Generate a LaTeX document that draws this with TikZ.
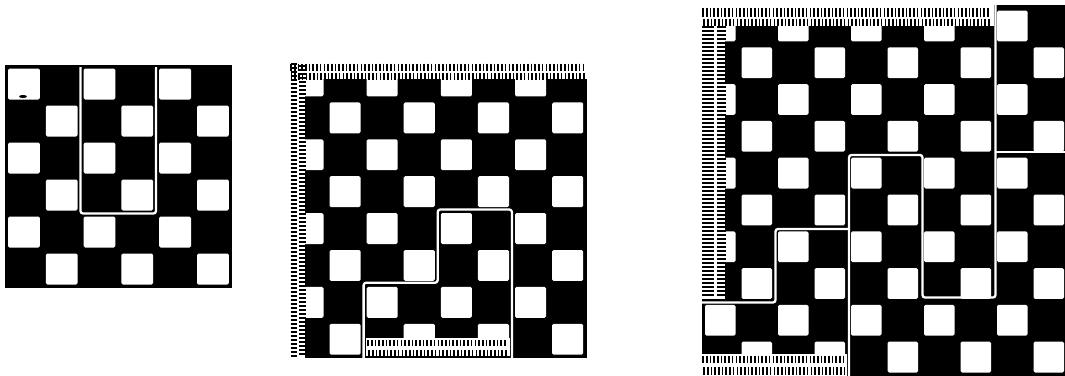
\documentclass[tikz,border=0pt]{standalone}
\tikzset{
 board/.style={fill=black},
 sq/.style={fill=white, rounded corners=1.5pt},
 fringebg/.style={fill=white},
 vtick/.style={draw=black, line width=1.6pt},
 htick/.style={draw=black, line width=1.7pt},
 seam/.style={draw=white, line width=2.3pt, rounded corners=2.5pt, line join=round},
}
% white squares of a checkerboard: x0 y0 cw ch lastcol lastrow
\newcommand\checkerA[6]{%
 \foreach \r in {0,...,#6}{\foreach \c in {0,...,#5}{%
   \pgfmathtruncatemacro\pty{mod(\r+\c,2)}%
   \ifnum\pty=0
     \fill[sq] ({#1+#3*\c+3},{#2+#4*\r+3}) rectangle ({#1+#3*(\c+1)-3},{#2+#4*(\r+1)-3});
   \fi}}}
% row of vertical ticks: xstart xend spacing ytop ybottom
\newcommand\tickrow[5]{%
 \pgfmathtruncatemacro\ntk{(#2-#1)/#3}%
 \foreach \i in {0,...,\ntk}{\draw[vtick] ({#1+#3*\i},#4) -- ({#1+#3*\i},#5);}}
% column of horizontal dashes: xleft xright ystart yend spacing
\newcommand\tickcol[5]{%
 \pgfmathtruncatemacro\ntk{(#4-#3)/#5}%
 \foreach \i in {0,...,\ntk}{\draw[htick] (#1,{#3+#5*\i}) -- (#2,{#3+#5*\i});}}
\begin{document}
\begin{tikzpicture}[x=1pt,y=-1pt]
\useasboundingbox (0,0) rectangle (1065,375);
\fill[white] (0,0) rectangle (1065,375);
\begin{scope}
\clip (0,0) rectangle (1065,375);
% ---------------- panel 1 ----------------
\fill[board] (5,65) rectangle (232,288);
\checkerA{5}{65.5}{37.8}{37}{5}{5}
\fill[black] (23,96.5) ellipse (4pt and 1.5pt);
\draw[seam] (80.5,67) -- (80.5,213.5) -- (156,213.5) -- (156,67);
% ---------------- panel 2 ----------------
\fill[board] (289.4,62.5) rectangle (587,358);
\checkerA{289.4}{62.5}{37.1}{36.9}{7}{7}
\fill[fringebg] (286,58) rectangle (588,79);
\fill[fringebg] (286,58) rectangle (305,359);
\fill[fringebg] (366,338) rectangle (510,355.5);
\tickrow{291}{586}{3.7}{63.5}{70.5}
\tickrow{291.5}{586}{3.7}{73}{79.5}
\tickcol{290.5}{297}{64}{357}{4}
\tickcol{299}{305.5}{66}{357}{4}
\tickrow{368}{507}{3.7}{340}{346}
\tickrow{369}{507}{3.7}{349.5}{355.5}
\draw[seam] (363.6,358) -- (363.6,282.7) -- (437.7,282.7) -- (437.7,209.5) -- (511.9,209.5) -- (511.9,358);
% ---------------- panel 3 ----------------
\fill[board] (702,7.5) rectangle (1066,376);
\fill[board] (994,4.5) rectangle (1066,8);
\checkerA{702}{7.5}{36.5}{36.8}{9}{9}
\fill[fringebg] (699,2) rectangle (993.5,25.5);
\fill[fringebg] (699,2) rectangle (725,299);
\fill[fringebg] (701.5,354) rectangle (847,376);
\tickrow{703}{991}{3.7}{8}{16.5}
\tickrow{704}{991}{3.7}{18.5}{25.5}
\tickcol{702}{714}{27}{298}{4}
\tickcol{717}{725.5}{27}{298}{4}
\tickrow{703}{846}{3.7}{355.5}{363}
\tickrow{704}{846}{3.7}{367}{374.5}
\draw[seam] (702,302.5) -- (775.5,302.5) -- (775.5,229) -- (849,229);
\draw[seam] (849,377) -- (849,155) -- (922.5,155) -- (922.5,297.5) -- (995.5,297.5) -- (995.5,4.5);
\draw[seam] (995.5,152) -- (1067,152);
\end{scope}
\end{tikzpicture}
\end{document}
